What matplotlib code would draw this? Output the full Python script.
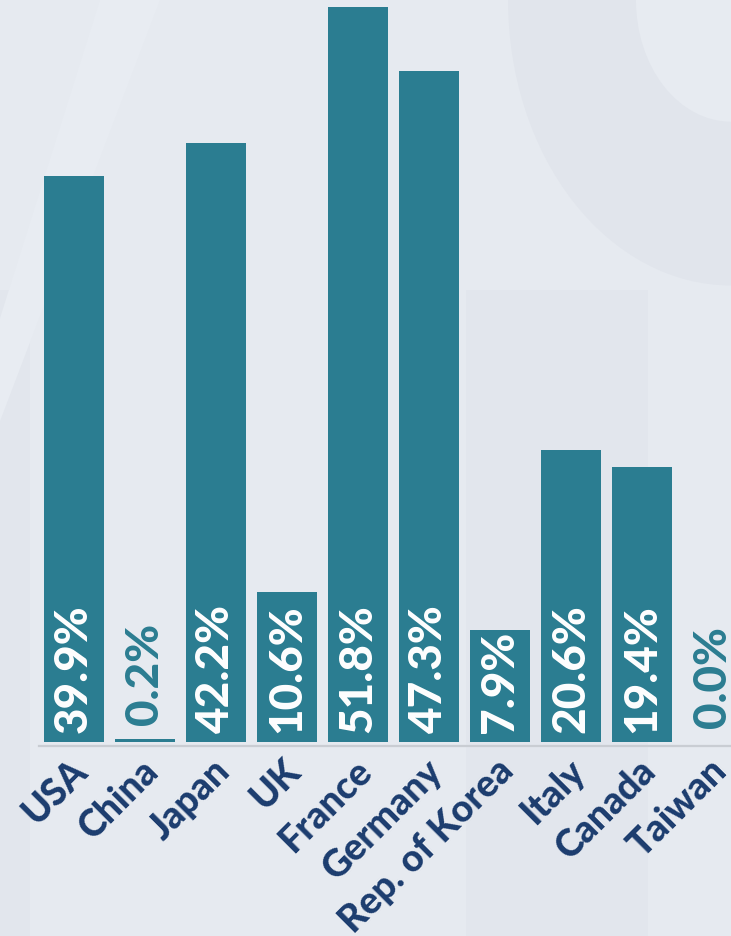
import matplotlib
matplotlib.use('Agg')
from matplotlib import pyplot as plt
from matplotlib.patches import Circle, Rectangle, Polygon
from matplotlib.transforms import ScaledTranslation

# share of each country (%)
countries = ['USA', 'China', 'Japan', 'UK', 'France', 'Germany',
             'Rep. of Korea', 'Italy', 'Canada', 'Taiwan']
shares = [39.9, 0.2, 42.2, 10.6, 51.8, 47.3, 7.9, 20.6, 19.4, 0.0]

BAR = '#2b7d91'
NAVY = '#1b3c6e'
BG = '#e6eaf0'
FONT = 'Lato'

W, H = 731, 936
fig = plt.figure(figsize=(W / 100, H / 100), dpi=100)
fig.patch.set_facecolor(BG)

# faint background shapes
fig.patches.append(Circle((1.0, 1.0), 0.305, transform=fig.transFigure,
                          facecolor='#e1e5ec', edgecolor='none', zorder=-5))
fig.patches.append(Circle((1.0, 1.0), 0.13, transform=fig.transFigure,
                          facecolor='#e7ebf1', edgecolor='none', zorder=-4))
fig.patches.append(Rectangle((466 / W, 0), 182 / W, 646 / H,
                             transform=fig.transFigure, facecolor='#e2e6ed',
                             edgecolor='none', zorder=-5))
fig.patches.append(Rectangle((0, 0), 30 / W, 646 / H,
                             transform=fig.transFigure, facecolor='#e2e6ed',
                             edgecolor='none', zorder=-5))
fig.patches.append(Polygon([(100 / W, 1), (160 / W, 1), (0, 0.55), (0, 0.66)],
                           closed=True, transform=fig.transFigure,
                           facecolor='#e8ecf2', edgecolor='none', zorder=-5))

# layout: 71 px per category, 14.19 px per percent, baseline at 742 px
pitch = 71.0
ppu = 14.19
base = 742
y0 = -0.3
ax = fig.add_axes([0, (H - base + y0 * ppu) / H, 1,
                   (base - y0 * ppu) / H])
ax.set_facecolor('none')
ax.set_xlim(-74 / pitch, (W - 74) / pitch)
ax.set_ylim(y0, base / ppu)

x = list(range(len(countries)))
ax.bar(x, shares, width=60 / pitch, color=BAR, zorder=2)

for spine in ['top', 'right', 'left']:
    ax.spines[spine].set_visible(False)
ax.spines['bottom'].set_color('#c9cdd3')
ax.spines['bottom'].set_linewidth(1.6)
ax.spines['bottom'].set_bounds(-0.5, 9.5)
ax.set_yticks([])

# value labels, white inside the bar, teal above an empty one
for i, v in enumerate(shares):
    txt = '{:.1f}%'.format(v)
    if v > 5:
        ax.text(i, 0.6, txt, rotation=90, ha='center', va='bottom',
                color='white', fontsize=33, fontweight='black',
                family=FONT, zorder=3)
    else:
        ax.text(i, v + 1.0, txt, rotation=90, ha='center', va='bottom',
                color=BAR, fontsize=33, fontweight='black',
                family=FONT, zorder=3)

ax.set_xticks(x)
ax.set_xticklabels(countries, rotation=45, ha='right', va='top',
                   rotation_mode='anchor', color=NAVY, fontsize=27,
                   fontweight='black', family=FONT)
ax.tick_params(axis='x', length=0, pad=5)
shift = ScaledTranslation(-0.04, 0, fig.dpi_scale_trans)
for lbl in ax.get_xticklabels():
    lbl.set_transform(lbl.get_transform() + shift)

fig.savefig('out.png', dpi=100, facecolor=BG)
